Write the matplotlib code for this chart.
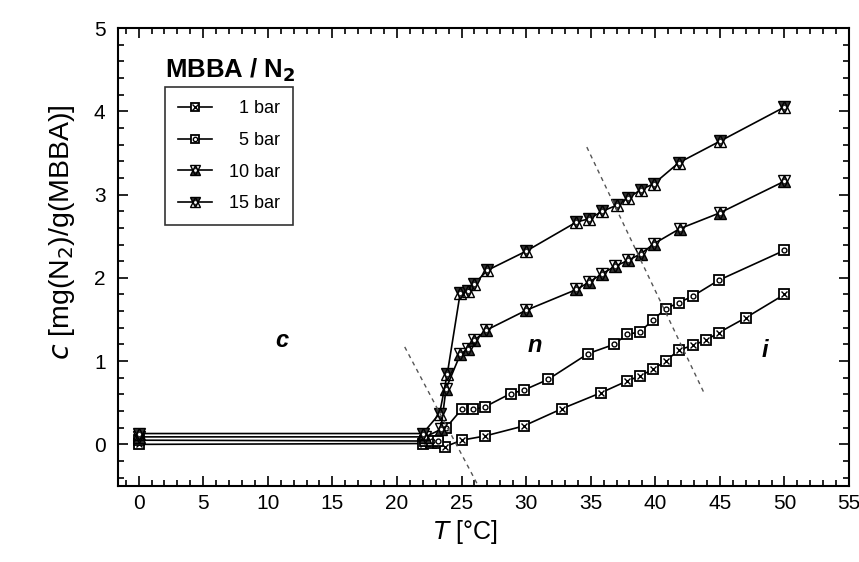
import matplotlib
matplotlib.use("Agg")
import matplotlib.pyplot as plt
from matplotlib.ticker import MultipleLocator
from matplotlib.legend_handler import HandlerTuple

plt.rcParams['font.family'] = ['Liberation Sans', 'DejaVu Sans']

# Temperature (°C) and N2 solubility c (mg N2 / g MBBA)
T_1bar = [0, 22.0, 22.6, 23.2, 23.7, 25.0, 26.8, 29.8, 32.8, 35.8, 37.8, 38.8,
          39.8, 40.8, 41.8, 42.9, 43.9, 44.9, 47.0, 50.0]
c_1bar = [0.0, 0.01, 0.02, 0.02, -0.03, 0.05, 0.10, 0.22, 0.43, 0.62, 0.76, 0.82,
          0.90, 1.00, 1.13, 1.19, 1.25, 1.34, 1.52, 1.80]

T_5bar = [0, 22.2, 22.7, 23.2, 23.8, 25.0, 25.9, 26.8, 28.8, 29.8, 31.7, 34.8,
          36.8, 37.8, 38.8, 39.8, 40.8, 41.8, 42.9, 44.9, 50.0]
c_5bar = [0.05, 0.04, 0.04, 0.04, 0.20, 0.42, 0.42, 0.45, 0.61, 0.65, 0.78, 1.09,
          1.20, 1.32, 1.35, 1.49, 1.63, 1.70, 1.78, 1.97, 2.33]

T_10bar = [0, 22.2, 23.4, 23.8, 24.9, 25.5, 26.0, 26.9, 30.0, 33.9, 34.9, 35.9,
           36.9, 37.9, 38.9, 39.9, 41.9, 45.0, 50.0]
c_10bar = [0.09, 0.09, 0.18, 0.67, 1.08, 1.15, 1.25, 1.37, 1.61, 1.86, 1.95, 2.05,
           2.14, 2.21, 2.29, 2.41, 2.59, 2.78, 3.16]

T_15bar = [0, 22.0, 23.3, 23.9, 24.9, 25.5, 26.0, 27.0, 30.0, 33.9, 34.9, 35.9,
           37.0, 37.9, 38.9, 39.9, 41.8, 45.0, 50.0]
c_15bar = [0.13, 0.13, 0.37, 0.85, 1.82, 1.84, 1.93, 2.09, 2.32, 2.67, 2.71, 2.80,
           2.87, 2.96, 3.06, 3.13, 3.38, 3.64, 4.05]

# Figure spaces keep the single-digit pressures right-aligned
labels = ["\u2007\u20071 bar", "\u2007\u20075 bar", "\u200710 bar", "\u200715 bar"]

# Phase boundaries (dashed guides): crystal/nematic and nematic/isotropic
cn_T = [20.6, 26.3]
cn_c = [1.17, -0.50]
ni_T = [34.7, 43.8]
ni_c = [3.57, 0.61]

fig = plt.figure(figsize=(8.59, 5.62), dpi=100)
ax = fig.add_axes([118 / 859, 76 / 562, 731 / 859, 458 / 562])

ms = 7
handles = []

# 1 bar: square with cross
l1, = ax.plot(T_1bar, c_1bar, '-', color='black', lw=1.2, marker='s', ms=ms,
              mfc='white', mec='black', mew=1.3)
m1, = ax.plot(T_1bar, c_1bar, ls='none', marker='x', ms=ms * 0.6, mec='black', mew=1.0)
handles.append((l1, m1))

# 5 bar: square with circle
l2, = ax.plot(T_5bar, c_5bar, '-', color='black', lw=1.2, marker='s', ms=ms,
              mfc='white', mec='black', mew=1.3)
m2, = ax.plot(T_5bar, c_5bar, ls='none', marker='o', ms=ms * 0.5, mfc='none', mec='black', mew=1.0)
handles.append((l2, m2))

# 10 bar: star (up triangle dominant)
l3, = ax.plot(T_10bar, c_10bar, '-', color='black', lw=1.2, marker='^', ms=ms + 1,
              mfc='#333333', mec='black', mew=1.0)
m3, = ax.plot(T_10bar, c_10bar, ls='none', marker='v', ms=ms + 1, mfc='none', mec='black', mew=1.0)
c3, = ax.plot(T_10bar, c_10bar, ls='none', marker='o', ms=2.2, mfc='white', mec='white', mew=0)
handles.append((l3, m3, c3))

# 15 bar: star (down triangle dominant)
l4, = ax.plot(T_15bar, c_15bar, '-', color='black', lw=1.2, marker='v', ms=ms + 1,
              mfc='#333333', mec='black', mew=1.0)
m4, = ax.plot(T_15bar, c_15bar, ls='none', marker='^', ms=ms + 1, mfc='none', mec='black', mew=1.0)
c4, = ax.plot(T_15bar, c_15bar, ls='none', marker='o', ms=2.2, mfc='white', mec='white', mew=0)
handles.append((l4, m4, c4))

# Phase boundary guides
ax.plot(cn_T, cn_c, ls=(0, (3, 3)), color='#555555', lw=1.0)
ax.plot(ni_T, ni_c, ls=(0, (3, 3)), color='#555555', lw=1.0)

# Phase labels
for x, y, s in [(11.1, 1.25, "c"), (30.7, 1.19, "n"), (48.5, 1.13, "i")]:
    ax.text(x, y, s, fontsize=17, fontstyle='italic', fontweight='bold',
            ha='center', va='center')

ax.set_xlim(-1.6, 55)
ax.set_ylim(-0.5, 5)
ax.xaxis.set_major_locator(MultipleLocator(5))
ax.xaxis.set_minor_locator(MultipleLocator(1))
ax.yaxis.set_major_locator(MultipleLocator(1))
ax.yaxis.set_minor_locator(MultipleLocator(0.2))
ax.tick_params(which='both', direction='in', top=True, right=True, width=1.2)
ax.tick_params(which='major', length=7, labelsize=15)
ax.tick_params(which='minor', length=4)
ax.tick_params(axis='y', which='major', pad=9)
ax.tick_params(axis='x', which='major', pad=6)
for s in ax.spines.values():
    s.set_linewidth(1.5)

ax.set_xlabel(r"$\it{T}$ [°C]", fontsize=18)
ax.xaxis.set_label_coords(0.475, -0.07)
ax.set_ylabel(r"$\it{c}$ [mg(N$_2$)/g(MBBA)]", fontsize=20.5)
ax.yaxis.set_label_coords(-0.056, 0.555)

# Legend with title above the box
ax.text(0.153, 0.908, r"MBBA / N$_\mathbf{2}$", transform=ax.transAxes, fontsize=18.5,
        fontweight='bold', ha='center', va='center')
leg = ax.legend(handles, labels, loc='upper left', bbox_to_anchor=(0.064, 0.871),
                borderaxespad=0,
                handler_map={tuple: HandlerTuple(ndivide=1)}, fontsize=13,
                frameon=True, fancybox=False, edgecolor='black', handlelength=1.9,
                labelspacing=0.82, borderpad=0.72, handletextpad=0.4, markerscale=0.9)
leg.get_frame().set_linewidth(1.2)

fig.savefig("out.png", dpi=100)
